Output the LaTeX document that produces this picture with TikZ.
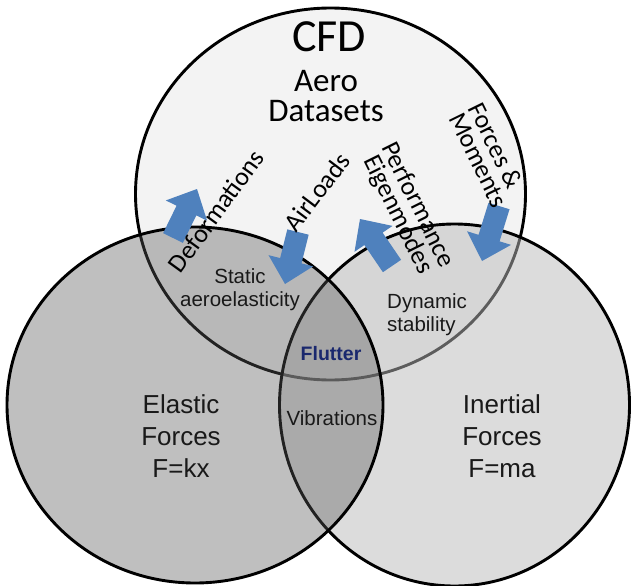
\documentclass[tikz,border=0pt]{standalone}
\usepackage{fontspec}
\setmainfont{Carlito}
\newfontfamily\arialf{Liberation Sans}
\usetikzlibrary{calc}
\definecolor{topfill}{RGB}{243,243,243}
\definecolor{rightfill}{RGB}{187,187,187}
\definecolor{leftfill}{RGB}{89,89,89}
\definecolor{arrowblue}{RGB}{79,129,189}
\definecolor{flutterblue}{RGB}{26,40,110}
\newcommand\blockarrowdraw[2]{%
  \coordinate (#1-hb) at ($(#2)!24pt!(#1)$);
  \fill[arrowblue] ($(#1)!11pt!90:(#2)$) -- ($(#1-hb)!11pt!90:(#2)$) -- ($(#1-hb)!23pt!90:(#2)$) -- (#2)
    -- ($(#1-hb)!23pt!-90:(#2)$) -- ($(#1-hb)!11pt!-90:(#2)$) -- ($(#1)!11pt!-90:(#2)$) -- cycle;}
\begin{document}
\begin{tikzpicture}[x=1pt,y=-1pt,
  ring/.style={draw=black, line width=2.9pt},
  calib/.style={font=\fontsize{26}{22}\selectfont, inner sep=0pt},
  arialtxt/.style={font=\arialf\fontsize{20.5}{23.5}\selectfont, inner sep=0pt, text=black!90},
  bigarial/.style={font=\arialf\fontsize{26}{32}\selectfont, inner sep=0pt, align=center, text=black!90}
]
\useasboundingbox (0,0) rectangle (632,586);
\fill[white] (0,0) rectangle (632,586);
% circles
\path[ring, fill=topfill] (330.5,194) ellipse [x radius=195pt, y radius=186pt];
\path[ring, fill=rightfill, fill opacity=0.5] (454.5,405) ellipse [x radius=175pt, y radius=181pt];
\path[ring, fill=leftfill, fill opacity=0.38] (195,405) ellipse [x radius=188pt, y radius=178pt];
% arrows
\coordinate (defT) at (173,238); \coordinate (defH) at (197,189);
\coordinate (airT) at (298,232); \coordinate (airH) at (285,284);
\coordinate (eigT) at (392,266); \coordinate (eigH) at (360,219);
\coordinate (forT) at (499,206); \coordinate (forH) at (482,261);
\blockarrowdraw{defT}{defH}
\blockarrowdraw{airT}{airH}
\blockarrowdraw{eigT}{eigH}
\blockarrowdraw{forT}{forH}
% texts
\node[inner sep=0pt, font=\fontsize{46}{46}\selectfont] (cfd) at (329,37) {CFD};
\node[inner sep=0pt, align=center, font=\fontsize{33}{30}\selectfont] (aero) at (326,96) {Aero\\Datasets};
\node[calib, rotate=54] (deform) at (216,211) {Deformations};
\node[calib, rotate=53] (airloads) at (317,192) {AirLoads};
\node[calib, rotate=-63.6, align=center] (perf) at (407.5,210) {Performance\\Eigenmodes};
\node[calib, rotate=-63.8, align=left] (forces) at (488.5,155) {Forces \&\\Moments};
\node[arialtxt, align=center] (static) at (240,289.5) {Static\\aeroelasticity};
\node[arialtxt, align=left, anchor=west] (dyn) at (387,314.5) {Dynamic\\stability};
\node[inner sep=0pt, font=\arialf\bfseries\fontsize{19.5}{20}\selectfont, text=flutterblue] (flutter) at (331,354) {Flutter};
\node[arialtxt] (vib) at (332,418) {Vibrations};
\node[bigarial] (elastic) at (181,436.5) {Elastic\\Forces\\F=kx};
\node[bigarial] (inertial) at (502,436.5) {Inertial\\Forces\\F=ma};
\end{tikzpicture}
\end{document}
